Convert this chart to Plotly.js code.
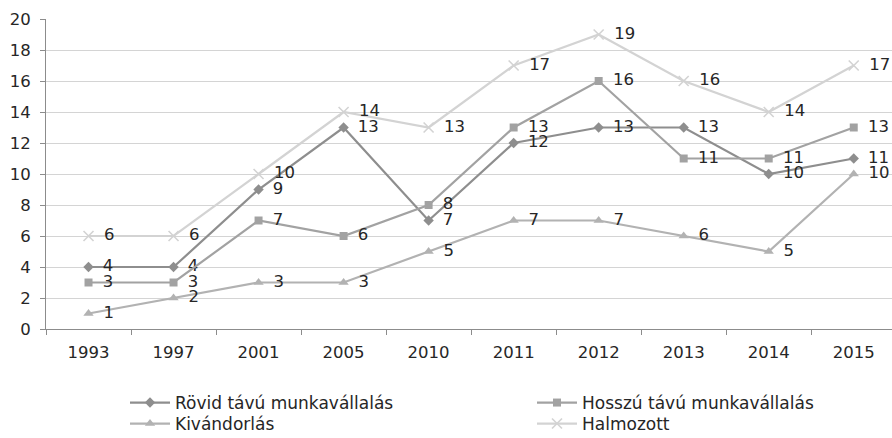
<!DOCTYPE html>
<html><head><meta charset="utf-8">
<script src="https://cdn.plot.ly/plotly-3.0.1.min.js"></script>
<style>html,body{margin:0;padding:0;background:#fff}#c{width:892px;height:438px}</style>
</head><body><div id="c"></div>
<script>
const years = ['1993','1997','2001','2005','2010','2011','2012','2013','2014','2015'];
const rovid = [4,4,9,13,7,12,13,13,10,11];
const hosszu = [3,3,7,6,8,13,16,11,11,13];
const kivandorlas = [1,2,3,3,5,7,7,6,5,10];
const halmozott = [6,6,10,14,13,17,19,16,14,17];
const names = ['Rövid távú munkavállalás','Hosszú távú munkavállalás','Kivándorlás','Halmozott'];

const FONT = 'DejaVu Sans, sans-serif';
const FS = 16.5;
function tr(y, name, color, symbol, size, leg){
  return {x: years, y: y, name: name, type:'scatter', mode:'lines+markers+text',
    legend: leg,
    text: y.map(v => '\u2002' + v), textposition:'middle right',
    textfont:{family:FONT, size:FS, color:'#262626'},
    line:{color:color, width:2.2},
    marker:{color:color, symbol:symbol, size:size, line:{color:color, width: symbol==='x-thin'?1.6:0}},
    cliponaxis:false};
}
const data = [
  tr(rovid, names[0], '#8e8e8e', 'diamond', 8, 'legend'),
  tr(hosszu, names[1], '#a2a2a2', 'square', 8, 'legend2'),
  tr(kivandorlas, names[2], '#b2b2b2', 'triangle-up', 9, 'legend3'),
  tr(halmozott, names[3], '#d3d3d3', 'x-thin', 10, 'legend4')
];
function leg(x, y){
  return {xref:'container', yref:'container', x:x, y:y, xanchor:'left', yanchor:'middle',
    orientation:'h', itemwidth:40, bgcolor:'rgba(0,0,0,0)',
    font:{family:FONT, size:17, color:'#262626'}};
}
const layout = {
  width: 892, height: 438,
  margin:{l:46, r:0, t:19, b:109},
  paper_bgcolor:'#fff', plot_bgcolor:'#fff',
  showlegend:true,
  legend: leg(125/892, 1-403/438),
  legend2: leg(532/892, 1-403/438),
  legend3: leg(125/892, 1-424/438),
  legend4: leg(532/892, 1-424/438),
  xaxis:{type:'category', range:[-0.5, 9.45], showgrid:false, showline:true, linecolor:'#8c8c8c', linewidth:1,
    ticks:'outside', tickson:'boundaries', ticklen:5, tickcolor:'#8c8c8c', ticklabelstandoff:8,
    tickfont:{family:FONT, size:FS, color:'#262626'}, fixedrange:true},
  yaxis:{range:[0,20], dtick:2, showgrid:true, gridcolor:'#d4d4d4', gridwidth:1,
    showline:true, linecolor:'#8c8c8c', linewidth:1, ticks:'outside', ticklen:5, tickcolor:'#8c8c8c',
    ticklabelstandoff:6,
    zeroline:false, tickfont:{family:FONT, size:FS, color:'#262626'}}
};
Plotly.newPlot('c', data, layout, {displayModeBar:false, staticPlot:true});
</script></body></html>
